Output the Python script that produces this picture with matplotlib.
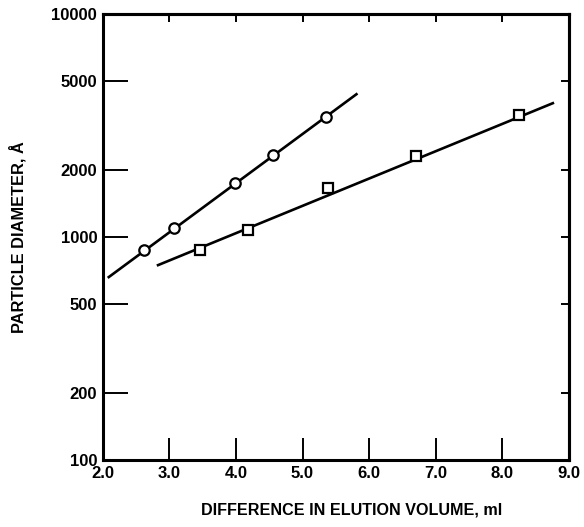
import matplotlib
matplotlib.use("Agg")
import matplotlib.pyplot as plt
import numpy as np

# Data
circle_x = [2.62, 3.07, 3.98, 4.55, 5.36]
circle_y = [875, 1097, 1746, 2333, 3453]
circle_line_x = [2.09, 5.81]
circle_line_y = [662, 4377]

square_x = [3.46, 4.18, 5.38, 6.71, 8.25]
square_y = [880, 1074, 1660, 2307, 3525]
square_line_x = [2.83, 8.76]
square_line_y = [749, 3990]

x_ticks = [2.0, 3.0, 4.0, 5.0, 6.0, 7.0, 8.0, 9.0]
x_tick_labels = ["2.0", "3.0", "4.0", "5.0", "6.0", "7.0", "8.0", "9.0"]
y_ticks = [100, 200, 500, 1000, 2000, 5000, 10000]
y_tick_labels = ["100", "200", "500", "1000", "2000", "5000", "10000"]

plt.rcParams['font.family'] = ['Liberation Sans', 'DejaVu Sans']
plt.rcParams['font.weight'] = 'bold'

fig = plt.figure(figsize=(5.84, 5.27), dpi=100)
ax = fig.add_axes([0.176, 0.127, 0.798, 0.846])

ax.plot(circle_line_x, circle_line_y, color='black', lw=1.9, zorder=2)
ax.plot(square_line_x, square_line_y, color='black', lw=1.9, zorder=2)
ax.plot(circle_x, circle_y, ls='none', marker='o', ms=7.5, mfc='white',
        mec='black', mew=1.6, zorder=3)
ax.plot(square_x, square_y, ls='none', marker='s', ms=6.5, mfc='white',
        mec='black', mew=1.6, zorder=3)

ax.set_yscale('log')
ax.set_xlim(2.0, 9.0)
ax.set_ylim(100, 10000)
ax.set_xticks(x_ticks)
ax.set_xticklabels(x_tick_labels, fontsize=12, fontweight='bold')
ax.set_yticks(y_ticks)
ax.set_yticklabels(y_tick_labels, fontsize=12, fontweight='bold')
ax.yaxis.set_minor_locator(matplotlib.ticker.NullLocator())
ax.tick_params(axis='x', direction='in', length=16, width=1.4, pad=4,
               top=False)
ax.tick_params(axis='y', direction='in', length=18, width=1.4, pad=4,
               right=False)
for s in ax.spines.values():
    s.set_linewidth(2.2)

sx = ax.secondary_xaxis('top')
sx.set_xticks(x_ticks[1:-1])
sx.tick_params(direction='in', length=6, width=1.4, labeltop=False)
sx.spines['top'].set_linewidth(2.2)

sy = ax.secondary_yaxis('right')
sy.set_yticks(y_ticks[1:])
sy.yaxis.set_minor_locator(matplotlib.ticker.NullLocator())
sy.tick_params(direction='in', length=6, width=1.4, labelright=False)
sy.spines['right'].set_linewidth(2.2)

ax.set_xlabel("DIFFERENCE IN ELUTION VOLUME, ml", fontsize=11.6,
              fontweight='bold')
ax.xaxis.set_label_coords(0.534, -0.095)
ax.set_ylabel("PARTICLE DIAMETER, Å", fontsize=11.8, fontweight='bold',
              labelpad=18)

fig.savefig("out.png", dpi=100)
